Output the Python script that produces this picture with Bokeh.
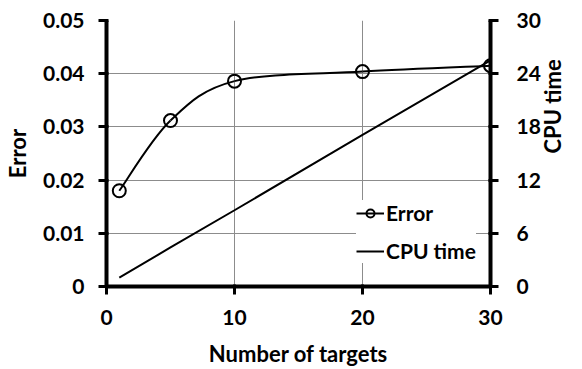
import math
from bokeh.plotting import figure
from bokeh.models import Range1d, LinearAxis, FixedTicker, Legend, LegendItem
from bokeh.embed import file_html
from bokeh.resources import INLINE

# data
targets = [1, 5, 10, 20, 30]
error = [0.018, 0.0312, 0.0386, 0.0404, 0.0415]
cpu_time = [1.0, 4.4, 8.6, 17.1, 25.5]
err_ticks = [0, 0.01, 0.02, 0.03, 0.04, 0.05]
err_labels = ["0", "0.01", "0.02", "0.03", "0.04", "0.05"]
cpu_ticks = [0, 6, 12, 18, 24, 30]
x_ticks = [0, 10, 20, 30]

FONT = "Lato"
TICK_SIZE = "21px"
TITLE_SIZE = "22px"

p = figure(width=582, height=369, output_backend="svg", toolbar_location=None,
           x_range=Range1d(0, 30), y_range=Range1d(0, 0.05),
           min_border_left=105, min_border_right=83, min_border_top=20, min_border_bottom=83)
p.outline_line_color = None
p.background_fill_color = "white"
p.border_fill_color = "white"
p.extra_y_ranges = {"cpu": Range1d(0, 30)}

# grid
p.xgrid.ticker = FixedTicker(ticks=x_ticks)
p.ygrid.ticker = FixedTicker(ticks=err_ticks)
for g in (p.xgrid, p.ygrid):
    g.grid_line_color = "#8c8c8c"
    g.grid_line_width = 1

def style_axis(ax):
    ax.axis_line_color = "black"
    ax.axis_line_width = 4
    ax.major_tick_line_color = "black"
    ax.major_tick_line_width = 3
    ax.major_tick_out = 8
    ax.major_tick_in = 2
    ax.minor_tick_line_color = None
    ax.major_label_text_font = FONT
    ax.major_label_text_font_style = "bold"
    ax.major_label_text_font_size = TICK_SIZE
    ax.major_label_text_color = "black"
    ax.axis_label_text_font = FONT
    ax.axis_label_text_font_style = "bold"
    ax.axis_label_text_font_size = TITLE_SIZE
    ax.axis_label_text_color = "black"

xa = p.xaxis[0]
xa.ticker = FixedTicker(ticks=x_ticks)
xa.axis_label = "Number of targets"
xa.major_label_standoff = 15
xa.axis_label_standoff = 12
style_axis(xa)

ya = p.yaxis[0]
ya.ticker = FixedTicker(ticks=err_ticks)
ya.major_label_overrides = {t: l for t, l in zip(err_ticks, err_labels)}
ya.axis_label = "Error"
ya.major_label_standoff = 14
ya.axis_label_standoff = 9
style_axis(ya)

ra = LinearAxis(y_range_name="cpu", ticker=FixedTicker(ticks=cpu_ticks), axis_label="CPU time")
ra.major_label_standoff = 18
ra.axis_label_standoff = 9
ra.axis_label_orientation = math.pi / 2
style_axis(ra)
p.add_layout(ra, "right")

# smooth (Excel-style) curve through the Error points
n = len(targets)
x0, y0, x1, y1, cx0, cy0, cx1, cy1 = [], [], [], [], [], [], [], []
for i in range(n - 1):
    pm = i - 1 if i > 0 else i
    pp = i + 2 if i + 2 < n else i + 1
    x0.append(targets[i]); y0.append(error[i])
    x1.append(targets[i + 1]); y1.append(error[i + 1])
    cx0.append(targets[i] + (targets[i + 1] - targets[pm]) / 6)
    cy0.append(error[i] + (error[i + 1] - error[pm]) / 6)
    cx1.append(targets[i + 1] - (targets[pp] - targets[i]) / 6)
    cy1.append(error[i + 1] - (error[pp] - error[i]) / 6)

curve = p.bezier(x0=x0, y0=y0, x1=x1, y1=y1, cx0=cx0, cy0=cy0, cx1=cx1, cy1=cy1,
                 line_color="black", line_width=2)
marks = p.scatter(targets, error, marker="circle", size=13, fill_color=None,
                  line_color="black", line_width=2)
cpu = p.line(targets, cpu_time, y_range_name="cpu", line_color="black", line_width=2)

legend = Legend(items=[LegendItem(label="Error", renderers=[curve, marks]),
                       LegendItem(label="CPU time", renderers=[cpu])],
                location=(250, 23))
legend.border_line_color = None
legend.background_fill_color = "white"
legend.background_fill_alpha = 1
legend.label_text_font = FONT
legend.label_text_font_style = "bold"
legend.label_text_font_size = TICK_SIZE
legend.label_text_color = "black"
legend.glyph_width = 28
legend.glyph_height = 20
legend.label_height = 20
legend.label_standoff = 2
legend.spacing = 13
legend.padding = 15
legend.margin = 0
p.add_layout(legend, "center")

open("out.html", "w").write(file_html(p, INLINE))
